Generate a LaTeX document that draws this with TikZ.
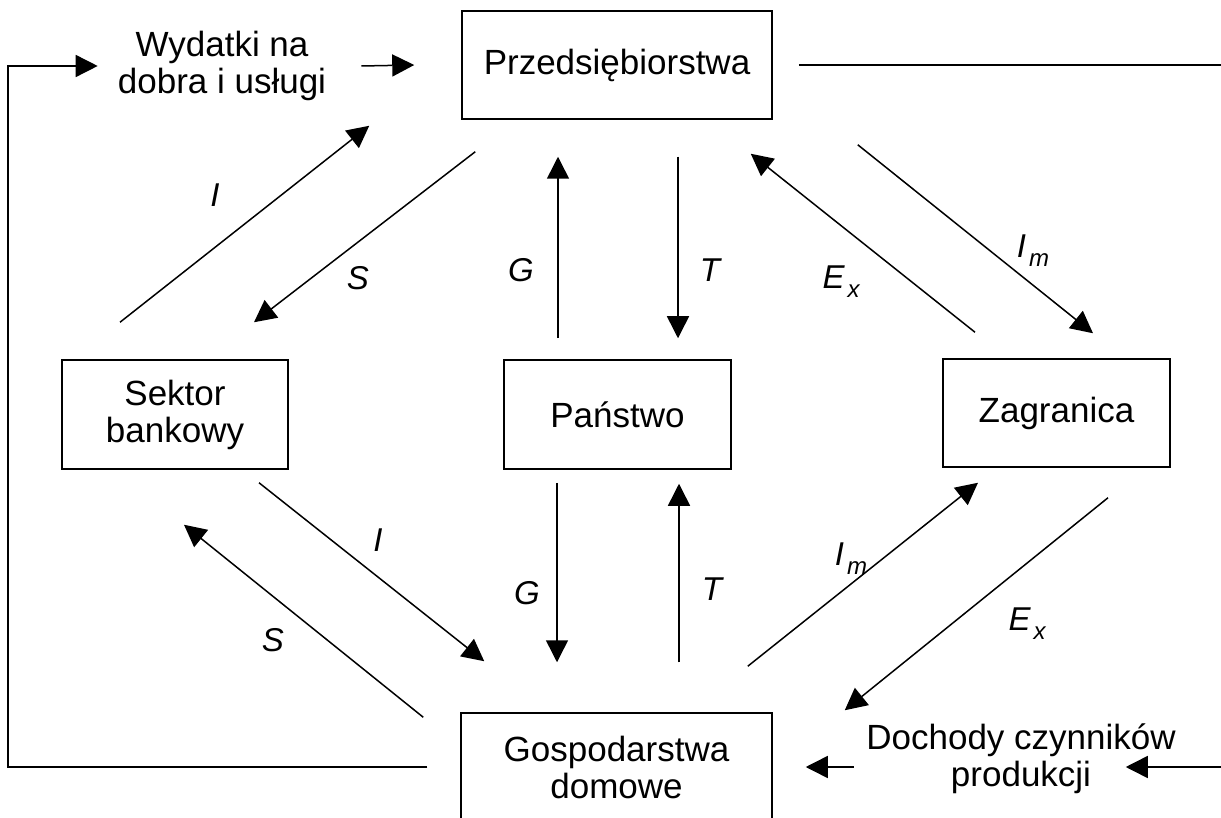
\documentclass[tikz,border=0pt]{standalone}
\usepackage{fontspec}
\setmainfont{Liberation Sans}
\usetikzlibrary{arrows.meta, positioning}

\newcommand{\boxfont}{\fontsize{35}{37}\selectfont}
\newcommand{\flowfont}{\fontsize{33}{33}\selectfont\itshape}
\newcommand{\lowsub}[1]{\kern3pt\raisebox{-9pt}{\fontsize{24}{24}\selectfont\itshape #1}}

\begin{document}
\begin{tikzpicture}[x=1pt, y=-1pt,
    sector/.style={draw, line width=1.5pt, align=center, font=\boxfont},
    caption/.style={inner sep=0pt, align=center, font=\boxfont},
    amount/.style={inner sep=0pt, font=\flowfont},
    flow/.style={line width=1.5pt, -{Triangle[length=22pt, width=22pt]}},
    loopline/.style={line width=1.5pt}]
                        \clip (0, 0) rectangle (1221, 818);
                        \node[sector, minimum width=310pt, minimum height=108pt] (prz) at (617, 65) {Przedsiębiorstwa};
                        \node[sector, minimum width=226pt, minimum height=109pt] (sb) at (175, 414.5) {Sektor\\bankowy};
                        \node[sector, minimum width=227pt, minimum height=109pt] (pan) at (617.5, 414.5) {Państwo};
                        \node[sector, minimum width=227pt, minimum height=108pt] (zag) at (1056.5, 413) {Zagranica};
                        \node[sector, minimum width=311pt, minimum height=108pt] (gos) at (616.5, 767) {Gospodarstwa\\domowe};
                        \node[caption] (wyd) at (222, 66) {Wydatki na\\dobra i usługi};
                        \node[caption] (doch) at (1021, 759) {Dochody czynników\\produkcji};
                        \coordinate (loopL) at (8, 0);
                        \coordinate (loopR) at (1221.5, 0);
                        \node[amount] (i1) at (215, 195) {I};
                        \node[amount] (s1) at (358, 278) {S};
                        \node[amount] (g1) at (521, 270) {G};
                        \node[amount] (t1) at (710, 270) {T};
                        \node[amount] (ex1) at (841, 282) {E\lowsub{x}};
                        \node[amount] (im1) at (1033, 251) {I\lowsub{m}};
                        \node[amount] (i2) at (378, 540) {I};
                        \node[amount] (s2) at (273, 640) {S};
                        \node[amount] (g2) at (527, 593) {G};
                        \node[amount] (t2) at (712, 589) {T};
                        \node[amount] (im2) at (851, 559) {I\lowsub{m}};
                        \node[amount] (ex2) at (1027, 624) {E\lowsub{x}};
                        \draw[flow]
                        ([shift={(-55,-37)}]sb.north) -- ([shift={(-92,6)}]prz.south west);
                        \draw[flow]
                        ([shift={(14,32)}]prz.south west) -- ([shift={(79,-37)}]sb.north);
                        \draw[flow]
                        ([shift={(-59.5,-21)}]pan.north) -- ([shift={(-59,37)}]prz.south);
                        \draw[flow]
                        ([shift={(61,37)}]prz.south) -- ([shift={(60.5,-21)}]pan.north);
                        \draw[flow]
                        ([shift={(-81.5,-26)}]zag.north) -- ([shift={(-22,34)}]prz.south east);
                        \draw[flow]
                        ([shift={(85,25)}]prz.south east) -- ([shift={(36.5,-25)}]zag.north);
                        \draw[flow]
                        ([shift={(84,13)}]sb.south) -- ([shift={(24,-51)}]gos.north west);
                        \draw[flow]
                        ([shift={(-37,5)}]gos.north west) -- ([shift={(9,55)}]sb.south);
                        \draw[flow]
                        ([shift={(-60.5,13)}]pan.south) -- ([shift={(-59.5,-50)}]gos.north);
                        \draw[flow]
                        ([shift={(62.5,-50)}]gos.north) -- ([shift={(61.5,14)}]pan.south);
                        \draw[flow]
                        ([shift={(-25,-46)}]gos.north east) -- ([shift={(-78.5,15)}]zag.south);
                        \draw[flow]
                        ([shift={(51.5,30)}]zag.south) -- ([shift={(72,-2)}]gos.north east);
                        \draw[flow]
                        ([xshift=-33pt]gos.west) -- (loopL |- gos.west) -- (loopL |- wyd.west) -- ([xshift=-20pt]wyd.west);
                        \draw[flow]
                        ([xshift=35pt]wyd.east) -- ([xshift=-47pt]prz.west);
                        \draw[loopline]
                        ([xshift=26pt]prz.east) -- (loopR |- prz.east) -- (loopR |- gos.east);
                        \draw[flow]
                        (loopR |- gos.east) -- ([xshift=353pt]gos.east);
                        \draw[flow]
                        ([xshift=81pt]gos.east) -- ([xshift=33pt]gos.east);
\end{tikzpicture}
\end{document}
